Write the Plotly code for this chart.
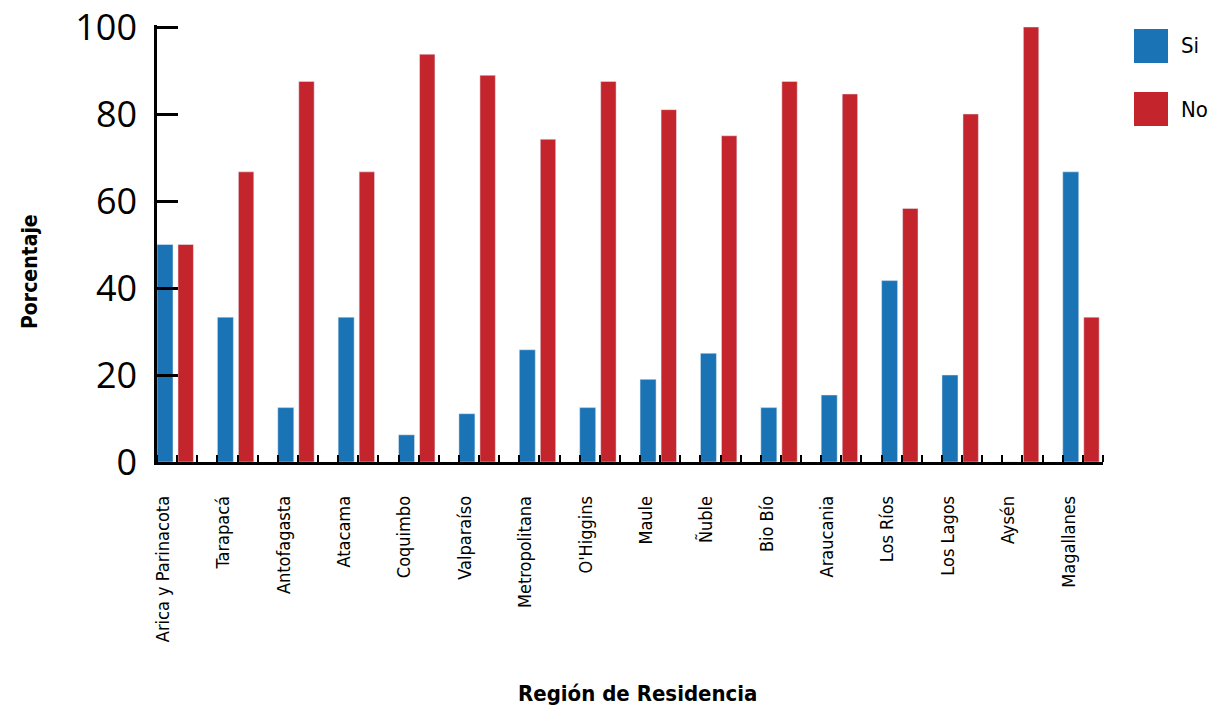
import plotly.graph_objects as go

regions = ["Arica y Parinacota", "Tarapacá", "Antofagasta", "Atacama", "Coquimbo",
           "Valparaíso", "Metropolitana", "O'Higgins", "Maule", "Ñuble", "Bio Bío",
           "Araucania", "Los Ríos", "Los Lagos", "Aysén", "Magallanes"]
si = [50, 33.3, 12.5, 33.3, 6.25, 11.1, 25.8, 12.5, 19, 25, 12.5, 15.4, 41.7, 20, 0, 66.7]
no = [50, 66.7, 87.5, 66.7, 93.75, 88.9, 74.2, 87.5, 81, 75, 87.5, 84.6, 58.3, 80, 100, 33.3]
y_ticks = [0, 20, 40, 60, 80, 100]

BLUE = "#1a73b4"
RED = "#c4252c"
COND = "Liberation Sans Narrow, DejaVu Sans Condensed, Roboto"

xs = list(range(len(regions)))

# body margin is removed in the page, so figure pixels == screenshot pixels
W, H = 1212, 710
L, T = 157, 25
PW, PH = 946, 437
R = W - L - PW
B = H - T - PH
YTOP = 100 * PH / 435  # keep 100 at y=27 with a little headroom so its tick is drawn

fig = go.Figure()
fig.add_bar(x=xs, y=si, name="Si", marker_color=BLUE, offset=-0.1, width=0.265, showlegend=False)
fig.add_bar(x=xs, y=no, name="No", marker_color=RED, offset=0.248, width=0.255, showlegend=False)

fig.update_layout(
    width=W, height=H,
    margin=dict(l=L, r=R, t=T, b=B, autoexpand=False),
    plot_bgcolor="white", paper_bgcolor="white",
    barmode="overlay",
    xaxis=dict(
        range=[-0.1, -0.1 + 47 / 3], automargin=False,
        tickmode="array", tickvals=xs, ticktext=regions,
        tickangle=-90, ticks="", ticklabelstandoff=24,
        tickfont=dict(family=COND, size=18, color="black"),
        showline=True, linecolor="black", linewidth=2.5,
        showgrid=False, zeroline=False,
        minor=dict(ticks="inside", tick0=-0.1, dtick=1 / 3, ticklen=7,
                   tickwidth=2, tickcolor="black", showgrid=False),
    ),
    yaxis=dict(
        range=[0, YTOP], tickvals=y_ticks, automargin=False,
        ticks="inside", ticklen=21, tickwidth=2.5, tickcolor="black",
        tickfont=dict(family="Open Sans", size=36, color="black"),
        ticklabelstandoff=10, ticklabeloverflow="allow",
        showline=True, linecolor="black", linewidth=2.5,
        showgrid=False, zeroline=False,
    ),
)

# screenshot pixel -> paper coordinates helper
def px(xp, yp):
    return (xp - L) / PW, (H - B - yp) / PH

ax, ay = px(30, 272)
fig.add_annotation(text="<b>Porcentaje</b>", x=ax, y=ay, xref="paper", yref="paper",
                   xanchor="center", yanchor="middle",
                   showarrow=False, textangle=-90, font=dict(family=COND, size=21, color="black"))
bx, by = px(637, 693)
fig.add_annotation(text="<b>Región de Residencia</b>", x=bx, y=by, xref="paper", yref="paper",
                   xanchor="center", yanchor="middle",
                   showarrow=False, font=dict(family=COND, size=22, color="black"))

# legend drawn as swatches + labels to match the large squares
legend_items = [("Si", BLUE, 29), ("No", RED, 92)]
shapes = []
for name, col, top in legend_items:
    x0, y0 = px(1134, top + 34)
    x1, y1 = px(1168, top)
    shapes.append(dict(type="rect", xref="paper", yref="paper", x0=x0, y0=y0, x1=x1, y1=y1,
                       fillcolor=col, line=dict(width=0)))
    tx, ty = px(1179, top + 17)
    fig.add_annotation(text=name, x=tx, y=ty, xref="paper", yref="paper",
                       xanchor="left", yanchor="middle",
                       showarrow=False, font=dict(family=COND, size=22, color="black"))
fig.update_layout(shapes=shapes)

fig.write_html("out.html", config={"displayModeBar": False},
               post_script="document.body.style.margin='0';document.body.style.overflow='hidden';")
